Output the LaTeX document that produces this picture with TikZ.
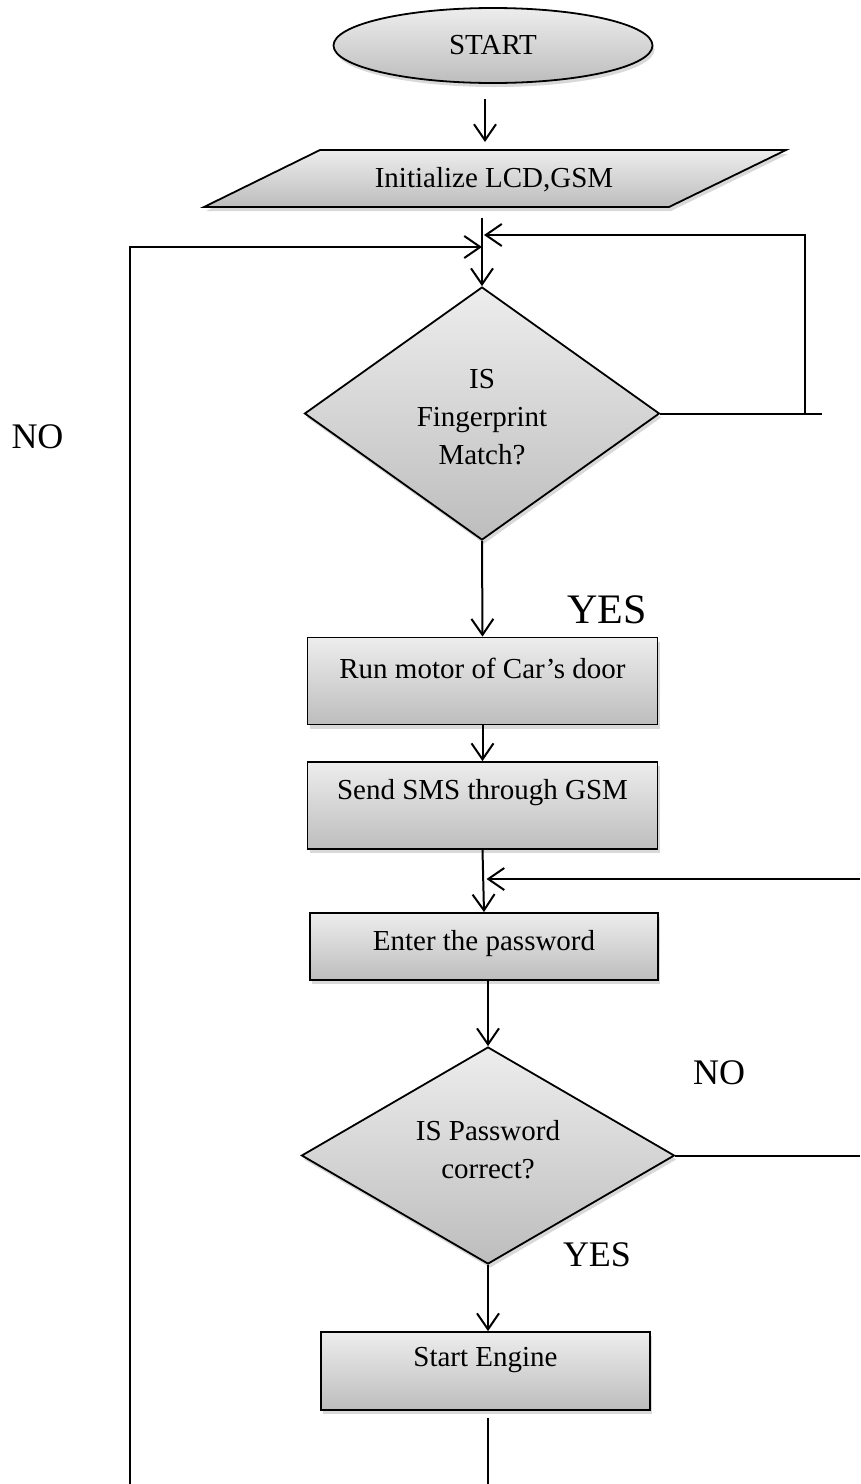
\documentclass[tikz,border=0pt]{standalone}
\usepackage{fontspec}
\setmainfont{Liberation Serif}
\usetikzlibrary{shapes.geometric,shadows,arrows.meta,calc}
\definecolor{shtop}{HTML}{EDEDED}
\definecolor{shbot}{HTML}{BDBDBD}
\begin{document}
\begin{tikzpicture}[x=1pt,y=-1pt,
  shp/.style={draw, line width=1.8pt, top color=shtop, bottom color=shbot,
    drop shadow={opacity=0.3, shadow xshift=2pt, shadow yshift=-4pt}},
  lbl/.style={font=\fontsize{29}{38}\selectfont, align=center},
  bigyes/.style={font=\fontsize{42}{46}\selectfont},
  big/.style={font=\fontsize{36}{40}\selectfont},
  ln/.style={line width=2pt},
  arr/.style={ln, -{Straight Barb[length=16pt,width=22pt,line width=2pt]}}]
\useasboundingbox (0,0) rectangle (860,1484);

% shapes
\node[shp, ellipse, minimum width=319pt, minimum height=75pt, inner sep=0, lbl] (start) at (493,45.5) {START};
\path[shp] (320,150) -- (786,150) -- (669,207) -- (204,207) -- cycle;
\node[lbl] (para) at (494,180) {Initialize LCD,GSM};
\coordinate (paratop) at (485,142);
\coordinate (parabot) at (482,218);

\node[shp, diamond, minimum width=355pt, minimum height=253pt, inner sep=0] (d1) at (482,413.5) {};
\node[lbl] (d1t) at (482,417) {IS\\Fingerprint\\Match?};

\node[shp, minimum width=350pt, minimum height=87pt, inner sep=0] (b1) at (482.5,681) {};
\node[lbl] (b1t) at (482.5,668) {Run motor of Car’s door};
\node[shp, minimum width=350pt, minimum height=87pt, inner sep=0] (b2) at (482.5,805.5) {};
\node[lbl] (b2t) at (482.5,793) {Send SMS through GSM};
\node[shp, minimum width=348pt, minimum height=67pt, inner sep=0] (b3) at (484,946.5) {};
\node[lbl] (b3t) at (484,944) {Enter the password};

\node[shp, diamond, minimum width=373pt, minimum height=217pt, inner sep=0] (d2) at (488,1155.5) {};
\node[lbl] (d2t) at (488,1150) {IS Password\\correct?};

\node[shp, minimum width=329pt, minimum height=78pt, inner sep=0] (b4) at (485.5,1371) {};
\node[lbl] (b4t) at (485.5,1360) {Start Engine};

% labels
\node[big] (no1) at (37.5,437) {NO};
\node[bigyes] (yes1) at (607,610) {YES};
\node[big] (no2) at (719,1073) {NO};
\node[big] (yes2) at (597,1255) {YES};

% connectors
\draw[arr] ($(start.south)+(-8,15)$) -- (paratop);
\draw[arr] (parabot) -- (d1.north);
\coordinate (lb) at (130,1484);
\coordinate (lt) at (130,247);
\draw[arr] (lb) -- (lt) -- (lt -| d1.north);
\coordinate (rb) at (805,413.5);
\coordinate (rt) at (805,235);
\draw[ln] (d1.east) -- (822,413.5);
\draw[arr] (rb) -- (rt) -- ($(rt -| d1.north)+(2,0)$);
\draw[arr] (d1.south) -- (b1.north);
\draw[arr] (b1.south) -- (b2.north);
\draw[arr] (b2.south) -- (b3.north);
\coordinate (pr) at (860,879);
\draw[arr] (pr) -- ($(pr -| b2.south)+(4,0)$);
\draw[arr] (b3.south -| d2.north) -- (d2.north);
\draw[ln] (d2.east) -- (860,1155.5);
\draw[arr] (d2.south) -- (d2.south |- b4.north);
\coordinate (eb) at (488,1484);
\draw[ln] (488,1418) -- (eb);
\end{tikzpicture}
\end{document}
